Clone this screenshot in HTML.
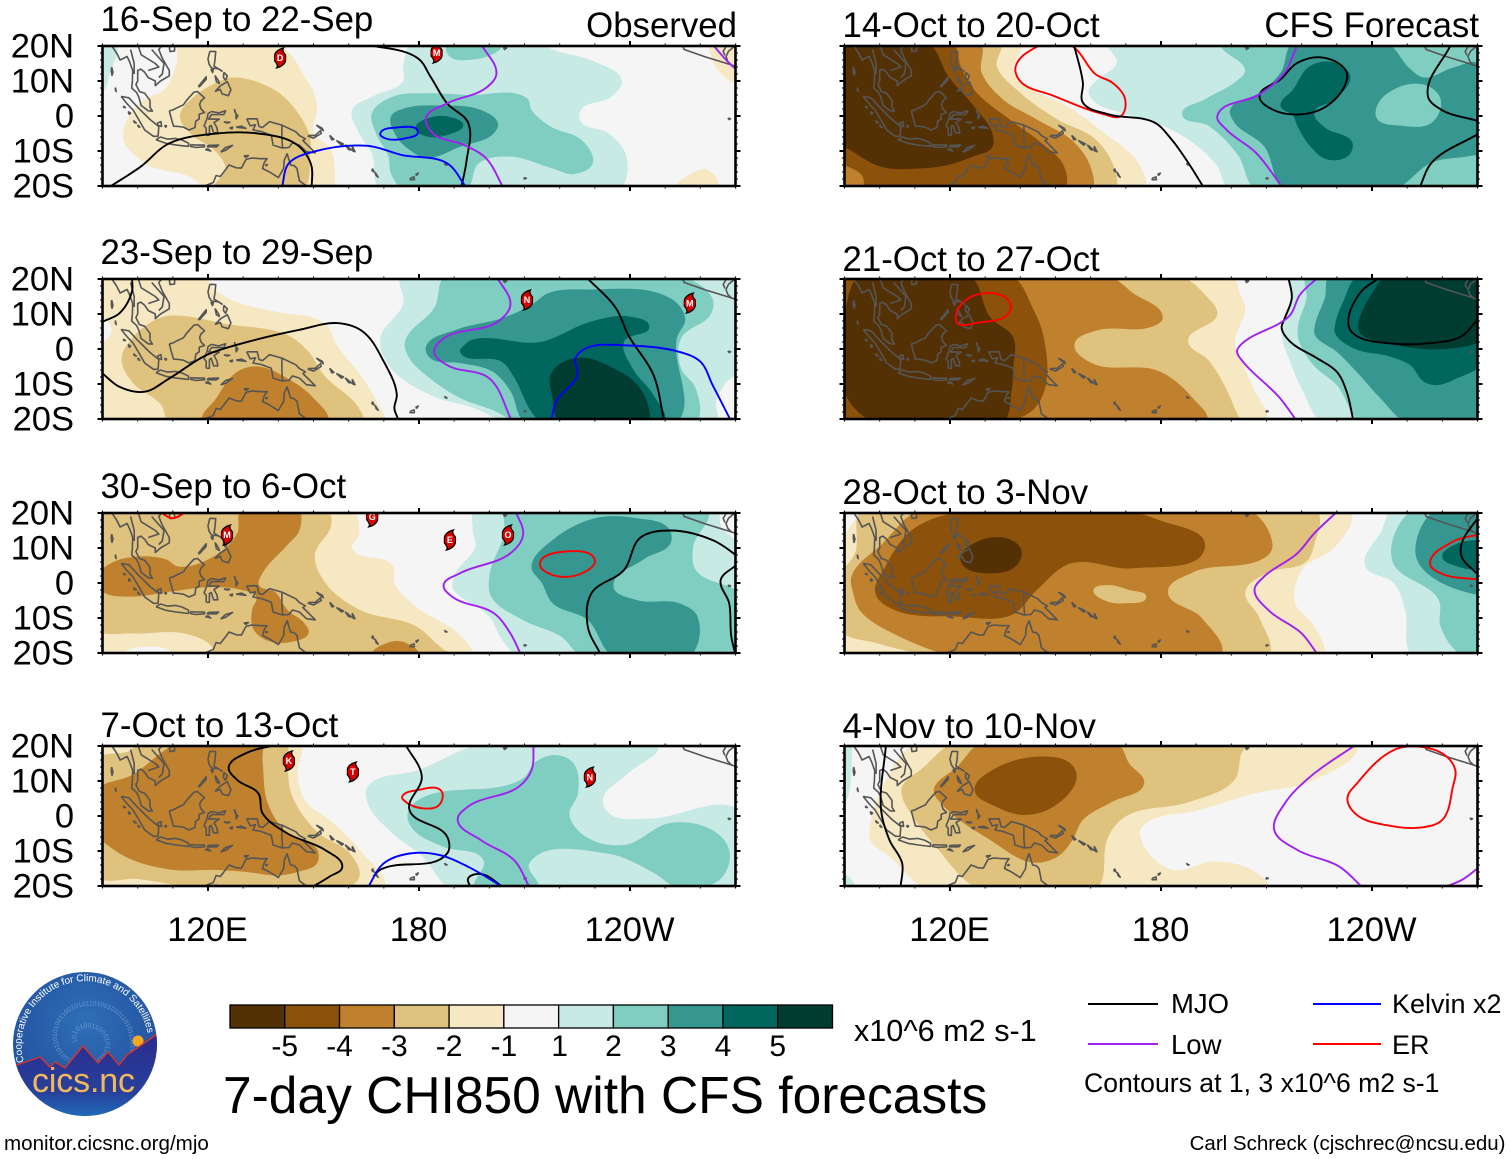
<!DOCTYPE html>
<html lang="en">
<head>
<meta charset="utf-8">
<title>7-day CHI850 with CFS forecasts</title>
<style>
html,body{margin:0;padding:0;background:#fff}
svg{display:block}
text{font-family:"Liberation Sans",sans-serif;fill:#000}
</style>
</head>
<body>
<svg id="chart" xmlns="http://www.w3.org/2000/svg" width="1510" height="1159" viewBox="0 0 1510 1159">
  <rect width="1510" height="1159" fill="#fff"/>
  <g id="panels"></g>
  <g id="colorbar"></g>
  <text x="854" y="1041" font-size="30.6">x10^6 m2 s-1</text>
  <text x="223" y="1113" font-size="51.5">7-day CHI850 with CFS forecasts</text>
  <g>
    <line x1="1088" x2="1158" y1="1004" y2="1004" stroke="#000" stroke-width="2"/>
    <text x="1171" y="1013" font-size="27.5">MJO</text>
    <line x1="1313" x2="1381" y1="1004" y2="1004" stroke="#0000ff" stroke-width="2"/>
    <text x="1392" y="1013" font-size="27">Kelvin x2</text>
    <line x1="1088" x2="1158" y1="1044" y2="1044" stroke="#a020f0" stroke-width="2"/>
    <text x="1171" y="1054" font-size="27.5">Low</text>
    <line x1="1313" x2="1381" y1="1044" y2="1044" stroke="#ff0000" stroke-width="2"/>
    <text x="1392" y="1054" font-size="27">ER</text>
    <text x="1084" y="1092" font-size="26.6">Contours at 1, 3 x10^6 m2 s-1</text>
  </g>
  <text x="4" y="1150" font-size="20.6">monitor.cicsnc.org/mjo</text>
  <text x="1505.5" y="1150" font-size="20.5" text-anchor="end">Carl Schreck (cjschrec@ncsu.edu)</text>
  <g>
    <defs>
      <radialGradient id="logoSky" cx="50%" cy="35%" r="60%">
        <stop offset="0" stop-color="#2f6fb6"/><stop offset="1" stop-color="#22509f"/>
      </radialGradient>
      <linearGradient id="logoGround" x1="0" y1="0" x2="0" y2="1">
        <stop offset="0" stop-color="#2b2a8c"/><stop offset="0.65" stop-color="#27409c"/><stop offset="1" stop-color="#1d7cc0"/>
      </linearGradient>
      <clipPath id="logoClip"><circle cx="85" cy="1044" r="72"/></clipPath>
      <path id="logoArc" d="M 24,1062 A 63.5,63.5 0 1 1 148,1036"/>
      <path id="logoSpiral" d="M 78,1042 C 70,1028 92,1022 102,1034 C 114,1050 96,1068 74,1060 C 48,1050 52,1012 84,1006 C 112,1002 134,1022 130,1052"/>
    </defs>
    <circle cx="85" cy="1044" r="72" fill="url(#logoSky)"/>
    <text font-size="6.5" style="fill:#8fb6e2" opacity="0.6"><textPath href="#logoSpiral">101010011000101101010011100101011010100110010101101001010110101100101011010</textPath></text>
    <circle cx="138" cy="1041" r="5.5" fill="#f6a821"/>
    <g clip-path="url(#logoClip)">
      <path d="M10,1066 L17,1065 L40,1057 L50,1067 L55,1062 L65,1068 L83,1046 L98,1063 L108,1052 L119,1065 L127,1055 L160,1032 L165,1125 L5,1125 Z" fill="url(#logoGround)" stroke="#d8342c" stroke-width="1.4"/>
    </g>
    <text font-size="10" style="fill:#fff"><textPath href="#logoArc" textLength="205">Cooperative Institute for Climate and Satellites</textPath></text>
    <text x="32" y="1092" font-size="34" textLength="103" style="fill:#f2b95a">cics.nc</text>
  </g>
</svg>
<script>
// ---- axis data ----
const lonTicks = [120, 180, 240];
const lonTickLabels = ['120E', '180', '120W'];
const latTicks = [20, 10, 0, -10, -20];
const latTickLabels = ['20N', '10N', '0', '10S', '20S'];
const colorbarLabels = ['-5', '-4', '-3', '-2', '-1', '1', '2', '3', '4', '5'];
const bandColors = ['#543005', '#8c510a', '#bf812d', '#dfc27d', '#f6e8c3', '#f5f5f5', '#c7eae5', '#80cdc1', '#35978f', '#01665e', '#003c30'];
const lineColors = {mjo: '#000000', low: '#a020f0', kelvin: '#0000ff', er: '#ff0000'};

// ---- filled CHI850 bands: [band index, [lon,lat, lon,lat, ...]] ----
const bands16Sep = [
 [6,[93.6,21,92,12,90,7,88,7,88,21]],
 [4,[112,21,111,15,108,8,101,4,96.6,-2,96,-7,99,-11,104,-14.5,114,-17,121,-21,155,-21,156,-14.5,154.6,-9,150,-5,151,2,150,7,147,12,144,17,139,21]],
 [3,[127,11,139,7.4,145,1.7,149,-6,149,-11,147,-21,122,-21,125,-15,122,-10,115,-5,112,0,116,5.5,122,9.3]],
 [4,[253.3,-21,257.5,-16.4,262,-15.4,265,-21]],
 [4,[263,21,263.5,16,266,12,271,9.5,272,21]],
 [6,[178,21,175.5,14,175.5,10,166.6,5.5,161,1.7,163,-5,166.6,-10.7,169,-21,237,-21,239,-11.6,234,-5,226,-1.6,226,1.7,234.7,5.5,237.7,10,230,15.5,218,19,212,22]],
 [7,[188,21,188.7,17,194,16,203,19,204,21]],
 [7,[166.6,0.8,167.8,-5,171.3,-11.6,172,-16.4,175.5,-21,193.5,-21,197,-13.5,206,-11.6,218,-15,224,-16.6,229.4,-13.5,226.4,-7,217.4,-3,212,1.7,210.8,5,194,6,182,6.5,172.5,5.5]],
 [8,[172,-0.2,176,2.2,185.7,3,197.6,1.7,202.4,-2,201.2,-5,191.7,-8.8,182,-12,177.3,-9.7,173.7,-6]],
 [9,[179,-3.5,183.3,-0.4,189.3,-0.4,192.6,-2.6,189.3,-5,182,-5.8]]
];
const bands23Sep = [
 [4,[88,21,118.7,21,122,17,128,13.5,140,10.5,153,7.5,157,0.5,163,-7,168,-15,170,-21,88,-21,88,1,91.5,3,92.5,6,90,9,88,9]],
 [3,[104.4,8,109,9.5,126,7,142.6,4,148.6,-0.8,153,-7.5,163,-17,164,-21,109,-21,106.7,-16,98.4,-9.4,95.4,-2.7,98.4,3]],
 [2,[118.5,-21,122.4,-14,128.3,-6.5,134.3,-5,142.6,-8.4,150,-14,154,-21]],
 [6,[175,21,175.5,13,169,3,171.6,-5,184,-13.5,196,-17,205,-21,264.5,-21,264.5,-15,267,-10,271,-6,272,21]],
 [7,[187.5,21,184.5,12,176,2,177.3,-2.7,182,-7.5,191.7,-14,201,-17.5,208.4,-21,258.7,-21,258.7,-11.3,254.5,-5.5,254.5,3,263,10,263.4,14.5,254,21]],
 [8,[216.8,16,227.6,17,251.5,14.5,255.7,8.8,253.3,3,253.3,-21,210.2,-21,206,-12,201,-6.5,191.7,-4,183.3,-2.7,182,0.7,190.5,5.5,203.6,8.8,212,12.6]],
 [9,[193,1.2,195,2.6,214.4,2,228.8,7.8,239.5,9.3,245.5,6.4,238.3,2,240.7,-5.5,246.7,-13.2,249.7,-21,215,-21,212,-18,207.2,-8.4,203.6,-3.7,191.7,-0.8]],
 [10,[217.4,-7.5,221,-3.7,227,-2.5,235.3,-5.5,241.3,-9.4,244.8,-15,245,-21,220,-21,218,-14]]
];
const bands30Sep = [
 [4,[88,21,161,21,163,14,161,10,172.6,5,173,0,179.4,-7,191.4,-14.7,195,-21,88,-21]],
 [3,[88,21,154,21,155,16.5,150.4,8,153.4,0,163,-7.6,179,-12.3,187,-19,190,-21,122,-21,121,-18,113,-14.4,98.4,-14.4,88,-13]],
 [5,[96,-21,102,-18.2,110,-21]],
 [2,[129.5,21,145.6,21,146,15,142.6,10.9,135.5,2.8,134.5,-0.6,139,-2.5,142.6,-7.7,147.4,-11.5,148.6,-14.4,143.8,-16.8,137.8,-16.8,133,-13.4,132.5,-7.7,133.7,-3.9,129.5,-2,120,-1.2,109,-2.5,98.4,-3.9,90,-2.5,88,1,90,4,96,7,108,6.8,111.5,4.7,122.3,8,128.3,14.2]],
 [2,[166.6,-21,171.3,-17,176,-17,180,-21]],
 [6,[196,21,195.3,15,196,10.4,190.4,2.8,189.6,-1.5,192,-4,200,-9.6,203.6,-16.2,208.3,-21,272,-21,272,10,266,16,264.7,21]],
 [7,[205,21,204.2,14,200,2,200.6,-4,209.6,-10.6,220.4,-15.3,226.4,-21,272,-21,272,-4,258.7,3.7,258,10.4,262,21]],
 [8,[230,18.5,242,18.5,251,15.6,251.5,11.3,244.3,7,235.3,-1,242,-4.9,254,-5.8,259.2,-9.6,256.9,-21,235.3,-21,228,-10.6,218,-5.8,215,-0.1,212,4.7,218,12.3]]
];
const bands7Oct = [
 [4,[88,21,146,21,145.5,12.3,147.4,4.7,155.7,-2,163,-9.6,170,-21,88,-21]],
 [3,[142,21,142.6,14,143.8,6,151,-4.5,160.6,-11,163,-17.5,158.2,-21,120.5,-21,100,-18,88,-17,88,16,98.4,19,100,21]],
 [2,[112,21,98.4,11.7,88,7,88,-5,91,-8,98.4,-12.5,110,-15.4,122,-15.4,131,-16,139.5,-17,145.5,-16,151,-13.5,151,-9.5,142.6,-5,137,3.6,135.5,16,135,21]],
 [6,[199,21,179.7,13.1,165.4,8.4,165.4,3.6,172.5,-5,181,-11.6,189.3,-21,272,-21,272,1,245.5,-0.7,234.7,0.3,232.3,4.6,239.5,12.2,248,21]],
 [7,[176.7,0.3,179.1,4.1,209.6,10.8,213.2,15.5,219.2,17.4,224,15,225.2,6.5,222.8,0.3,227.6,-6,238.3,-8.3,251.5,-2,263.4,-4,268.2,-9.7,266.4,-17.3,258.7,-21,254,-21,247,-16.4,233.5,-10.7,211.4,-13.5,213.8,-21,195.9,-21,198.3,-12.6,186.9,-8.8,178.5,-4]]
];
const bands14Oct = [
 [4,[88,21,139.9,21,138,12.9,143.5,7.6,153,3,163.8,-4.8,173.4,-13.3,175.2,-21,88,-21]],
 [3,[88,21,134.3,21,133.3,14.3,139.9,6.7,150.6,-1,161.4,-6.7,166.8,-15.2,166.8,-21,88,-21]],
 [2,[88,21,128.5,21,129,12.4,135,4.8,144.7,-1,155.4,-7.6,160.2,-15.2,160.2,-21,88,-21]],
 [1,[88,-13,90,-14,95,-17,96.2,-21,152.4,-21,152.4,-14.3,145.9,-7.6,137.5,-1.4,126.7,7.6,123,14.3,120.7,21,88,21]],
 [0,[88,21,113.6,21,119.5,11.4,126.7,2.9,132,-4.8,132,-9,126.7,-11.5,119.5,-14,111.2,-15,100.4,-14.5,90.2,-9,88,-8]],
 [6,[165,21,167.4,15.2,162,10.5,159.4,7,161.4,3.8,168.6,1,181.7,-3.3,189,-7.6,196,-14.3,199.3,-21,272,-21,272,21]],
 [7,[197.3,21,203.9,12.9,201.5,10,192.5,4.8,186,0.5,193.7,-2.9,202,-11.4,206.9,-21,272,-21,272,21]],
 [8,[217.6,21,214,12.4,208,6.7,199.7,1.9,200.9,-1.9,209.3,-8.6,215.2,-21,246.3,-21,257,-13.3,267.9,-11.4,271,-10.5,271,14.8,263,13.8,254.7,11,251,13.3,244,21]],
 [7,[241,1,244,6.2,254.7,9,259.5,4.8,257,-1.9,247.5,-2.7,242,-1.4]],
 [9,[214,2.9,217.6,7.6,222.4,14.3,229.6,15.2,233.8,11.4,229.6,4.8,223.6,1,226.6,-3.3,234.4,-7.6,233.2,-11.4,227.2,-12.4,222.4,-8.6,218.8,-2.9,217.6,0]]
];
const bands21Oct = [
 [4,[200.3,21,202.5,15.5,204,11.6,202.5,6.9,201,2,202.5,-2.6,206.3,-11.2,209.7,-21,88,-21,88,21]],
 [3,[88,21,185.3,21,193,15,196,10,187.7,2.3,193.7,-3.4,200.9,-16.8,202,-21,88,-21]],
 [2,[88,21,165,21,172,16,180.5,9,178,6.6,161.4,5.2,155.4,1.3,160,-3.9,179.4,-6.3,189,-14,193,-21,88,-21]],
 [1,[88,21,137.5,21,143.5,11.8,146.5,4,147.2,-10.6,143.5,-17.5,135,-21,88,-21]],
 [0,[94.4,21,125.5,21,131.5,9,138,3.3,138,-5.4,137.5,-12,135,-21,98.6,-21,90.2,-13,89,-0.6,90.2,11]],
 [6,[216.7,21,216.9,14,214.8,8.8,214.3,4,216.7,-3.6,220.4,-12.2,226,-21,272,-21,272,21]],
 [7,[221.4,21,221.4,14.6,219,6.9,219,3,223.3,-4.6,230,-10.3,237,-21,272,-21,272,21]],
 [8,[228,21,226.6,14.6,223.8,6.9,223.8,4,230,-0.8,235.6,-6.5,242.3,-14,249.9,-21,267.9,-21,270,-19,272,-18,272,21]],
 [9,[236.1,21,231.8,13.5,229.5,6.9,229.5,4.5,234.7,0.2,245.2,-2.2,250.9,-4.6,254.7,-9.3,258.4,-10.3,264.1,-8.4,272,-3.5,272,21]],
 [10,[244.2,21,240.3,16.4,236.1,6.9,236.6,4.5,242.3,2.1,263,0.2,272,3.5,272,21]]
];
const bands28Oct = [
 [4,[96,21,233.8,21,229.6,10.4,220,3.7,218.2,-5.8,223.6,-12.5,226,-21,88,-21,88,12,90,14]],
 [3,[95,21,224.2,21,223.6,11,221.2,6,210.5,3,204,-2.5,208,-10,210.5,-21,117,-21,99.2,-17.2,88,-13,88,1,93,8.5]],
 [2,[111.5,21,100.8,11.3,92,1.9,92.5,-3,94.5,-8,105,-15,122,-21,197,-21,191.6,-10,182,-2.5,189,3,210.5,8,211.7,11,205,21]],
 [1,[121,20,109,15,101.6,4.7,98.8,-3,104.2,-7.7,122,-9.6,137.6,-9.1,144.7,-2,154.3,5.6,172,4.2,192.5,10.4,179.4,18,167.4,21]],
 [0,[123,7.5,127.7,11.8,136,12.8,140.3,9.4,138.6,4.7,130,2.8,124,4.7]],
 [3,[160.8,-2,165,-0.6,171,-2,175.8,-4,169.8,-5.8,163.8,-4.9]],
 [6,[245.7,21,242.8,15,238,5,246.3,-0.1,249.4,-7.7,251.7,-21,272,-21,272,21]],
 [7,[251.7,21,245.7,6.6,259,-4.9,259.5,-12.5,266.2,-21,272,-21,272,21]],
 [8,[258.3,21,252.3,9.4,254.7,3.7,270,-3.4,272,-3.4,272,21]],
 [9,[260,7.5,264.3,11.3,270,12.3,272,12.3,272,3.7,270,3.7,264.3,4.7]]
];
const bands4Nov = [
 [6,[88,21,91,21,92,14,90.5,4,88,0]],
 [6,[88,-16,90,-16.5,93,-21,88,-21]],
 [4,[110.6,21,100.4,7.4,97.4,-2,97.4,-7,102.8,-11.6,113.6,-21,210.5,-21,205.7,-15.4,194.9,-13,183,-15.3,174,-5,175.8,-2,190,1.5,206.9,6.5,223.6,10.3,235.6,21]],
 [3,[121.3,21,112,13.5,106.4,8.4,106.4,5.5,108.8,0.8,116,-8.8,128.5,-21,161.4,-21,165,-5.9,169.8,-0.2,188,4,200.9,10.3,202.7,17.4,203.9,21]],
 [2,[129,21,122,14,115.4,7.4,118.3,2.7,131.5,-6.9,143.5,-13.3,150.6,-11.6,154.8,-6.9,157.8,-1.1,166,4,175.2,9.3,171,15,167.4,21]],
 [1,[127,7.4,132.9,13.6,147.2,17,154.3,15,156,10.8,149.5,2.7,141,0.3,133,2.7]]
];

// ---- contour lines: [kind, closed, [lon,lat, ...]] ----
const lines16Sep = [
 ['mjo',0,[92.4,-20,100.8,-14.5,109,-7.8,122.4,-5,134.3,-5,145,-8,149.3,-13.8,149.5,-20.5]],
 ['mjo',0,[164.8,20.5,179.7,16.5,183.3,11.2,188,3.6,194,-2,193.5,-12.9,192,-20.5]],
 ['low',0,[197.7,20.5,202,12,199,8,188,3.6,182,-0.5,184,-5,192.9,-8.3,199,-12,204,-20.5]],
 ['low',0,[263.4,20.5,269.4,14,271,13]],
 ['kelvin',0,[141,-20.5,143,-13.5,150,-10.2,165.4,-8.5,175,-11.1,188,-13.5,193.5,-20.5]],
 ['kelvin',1,[169,-5,173.7,-3.3,179.7,-4.5,176,-6.4,170,-6.2]]
];
const lines23Sep = [
 ['mjo',0,[90,7.8,94.8,10.2,98.4,16.5,98.4,20.5]],
 ['mjo',0,[90,-7,94.8,-10.8,102,-12.2,109,-8.4,119.7,-1.7,131.6,2.1,146,5.5,156.8,7.4,164,5,170,-3.6,173.7,-13,173,-17,174.3,-20.5]],
 ['mjo',0,[227.6,20.5,236,11.7,239.5,4,246.7,-7.5,249.7,-20.5]],
 ['low',0,[202.2,20.5,206,12.6,202.4,7.8,187,3,184.3,-0.8,188,-4.6,200,-8.4,206.4,-20.5]],
 ['kelvin',0,[217.6,-20.5,219,-15,225,-7.5,224.5,-2.7,227.5,0.2,239.5,1,254,-0.8,260,-3.6,263.5,-10.3,268.7,-20.5]]
];
const lines30Sep = [
 ['er',1,[214.4,5.6,221.6,9,230,6.6,226.4,2.8,218,2.3]],
 ['er',0,[105,21,106.2,20.5,109.8,18.5,114,20.5,115,21]],
 ['mjo',0,[231.7,-20.5,228,-12.5,229,-3,238.3,3.7,243,13,251.5,15,263.4,12.3,269.4,8.5,271,7]],
 ['mjo',0,[270,5,265.8,0.9,268.2,-5.8,268.8,-15.3,270,-20.5]],
 ['low',0,[207.5,20.5,209.6,13.7,206,8.5,191.7,2.8,187,-0.6,189.4,-3.9,201.4,-8.7,206,-14.4,209,-20.5]]
];
const lines7Oct = [
 ['er',1,[175.2,5.5,179.7,7.4,186.3,7.2,185.7,3.1,181,2.2,175.6,4.6]],
 ['mjo',0,[140.2,20.5,130.7,17.9,125.9,14,128.3,10.3,134.3,6.5,135.5,0.8,142.6,-5,153.3,-9.7,158.2,-14.5,154.6,-17.3,149.2,-20.5]],
 ['mjo',0,[176.1,20.5,180.8,11.2,177.3,1.7,188,-5.9,188,-10.7,168.9,-15.4,167,-17.3]],
 ['mjo',0,[194.7,-20.5,194,-17.8,197.6,-16.6,204.2,-20.5]],
 ['mjo',0,[121.7,-19.8,126,-20.3]],
 ['low',0,[212.6,20.5,212,13.1,208.4,8.4,194,2.7,191,-1.1,197.6,-6.9,207,-12.6,211.5,-20.5]],
 ['kelvin',0,[165.4,-20.5,170,-13.5,177.3,-10.7,185.7,-11.1,194,-14.5,204.2,-20.5]]
];
const lines14Oct = [
 ['er',1,[145.9,20.5,138.7,14.3,139.9,10,149.4,5.8,163.8,0.5,168.6,0,169.8,4.8,166.2,9.5,161.4,11.9,155.4,19.5,150,22]],
 ['mjo',0,[155.2,20.5,157.8,9.5,157.8,3.8,165,0.5,178.2,-1.9,183,-6.7,187.7,-13.3,192.2,-20.5]],
 ['mjo',1,[208,5.7,214,10.5,218.8,15.2,226,16.7,232.6,12.9,232.6,9.5,227.2,2.9,220,0.5,211.6,1.9]],
 ['mjo',0,[262.5,20.5,255.9,5.7,259.5,1.9,270,-1.4]],
 ['mjo',0,[253.5,-20.5,257,-13.3,270,-5.2]],
 ['low',0,[218.8,20.5,215.2,12.4,208,6.2,196,0,198.5,-3.8,207,-10.5,214.6,-20.5]]
];
const lines21Oct = [
 ['er',1,[122,7.5,122,10.9,126.7,15.2,135,15.2,137.3,12.3,136,9.5,127.7,7.5,123,6.9]],
 ['mjo',0,[216.2,20.5,217.2,14.6,215.2,8.8,214.3,6,216.7,2.1,224.3,-2.6,230,-6.5,232.8,-12.2,234.7,-20.5]],
 ['mjo',0,[242.3,20.5,236.6,16,233.3,6.9,235.2,4,245.2,1.6,255.7,1.6,265.2,3.5,270,8.3]],
 ['low',0,[224.7,20.5,219.5,15.5,216.7,9.7,202.5,1,201.6,-0.8,202.5,-2.6,213.8,-14,218.6,-20.5]]
];
const lines28Oct = [
 ['er',0,[271,14,263,11.8,256.5,5.6,259.5,2.8,271,0.9]],
 ['mjo',0,[270,18.5,265.5,11.3,265.5,7.5,269.7,2.8]],
 ['low',0,[230.2,20.5,223.6,14.2,218.8,8.5,209.3,1.8,206.6,-2,210.5,-7.7,220,-14.4,224.6,-20.5]]
];
const lines4Nov = [
 ['mjo',0,[101.8,20.5,100.4,1.7,102.8,-6.9,106.4,-13.5,105.9,-20.5]],
 ['low',0,[235.6,20.5,222.4,11.2,215.2,3.6,212.2,-4,218.8,-9.7,230.8,-14.5,237.4,-20.5]],
 ['low',0,[260.2,-20.5,265.5,-18.3,270,-15]],
 ['er',1,[246.3,18.9,253.5,19.8,260.7,17.4,263.7,13.1,263,8.4,260,-1.1,254.7,-3.2,244,-2.6,235.7,0.3,233,5,235.7,9.3]]
];

// ---- tropical cyclones: [letter, lon, lat] ----
const storms16Sep = [['D',140.5,16.6],['M',185,18]];
const storms23Sep = [['N',210.7,14],['M',257,13.1]];
const storms30Sep = [['M',125.4,13.7],['G',166.7,18.9],['E',188.8,12.3],['O',205.3,13.7]];
const storms7Oct = [['K',143,15.7],['T',161.2,12.6],['N',228.6,11.1]];

// ---- coastlines: [lon,lat, ...] ----
const coastlines = [
 [108,21.5,106,19,107,16.5,109,13,109,11.5,106.5,10,105,8.7,105,10,103,11,102,12.5,100.9,13.4,100,13,100,10,99.5,9,100.5,7,102,6.5,103.5,4.5,103.5,2.5,104.2,1.4,103,1.5,101,3,100.3,5.5,99.7,6.7,98.3,8,98.5,10,98.6,13,97.7,15.5,97,17,95,16,94,18,92,21],
 [100,20.5,101,17.5,105,15,106,14,103,13],
 [104,19,107.5,15,107,12,106,11],
 [98,19,99,15,99,12],
 [95.3,5.6,97.5,5.2,100,2.5,103.5,-1,106,-3,105.8,-5.8,104.5,-5.8,102,-4,100.3,-1,98.7,1.7,97,3.5,95.3,5.6],
 [105.2,-6.8,106.5,-6,108.5,-6.6,110.8,-6.4,112.7,-6.9,114.5,-7.8,114.4,-8.7,111,-8.3,108,-7.8,105.2,-6.8],
 [115,-8.2,116.5,-8.3,119,-8.3,119,-8.8,116.5,-9,115,-8.7,115,-8.2],
 [120,-8.4,123,-8.3,122.5,-8.8,119.8,-8.8,120,-8.4],
 [123.6,-10.3,125,-9,127,-8.4,125,-9.8,123.6,-10.3],
 [119.2,-9.6,120.8,-10,120,-9.4,119.2,-9.6],
 [109,1.5,110,1.7,111.3,2.4,113,3.2,114,4.6,116,6.8,117,7,119,5.2,118,4.3,117.6,3.3,118,2,119,1,117.5,0.5,117.5,-0.8,116.5,-1.5,116.3,-3.3,114.6,-4,113,-3.2,111.7,-3,110.2,-2.9,109.5,-0.5,109,1.5],
 [119.5,-5.5,119.5,-3.5,118.9,-2.8,119.8,-0.5,120,0.7,121,1.3,123,0.9,125,1.5,124.5,0.4,121,0.4,120.2,-0.9,121.5,-0.9,123.2,-0.9,121.7,-1.9,122.5,-3.3,122.8,-4.8,121.6,-4.8,120.9,-2.7,120.4,-3,120.4,-5.5,119.5,-5.5],
 [120.5,18.5,122.2,18.4,122,16,121.7,14.3,124,12.8,123,13.5,121,13.7,120.3,14.8,120,16.3,120.5,18.5],
 [122,7,123.5,8.6,125.5,9.8,126.5,7.5,125.8,5.8,124,6.3,123.5,7.6,122,7],
 [117.2,8.4,119.5,11.2,119.5,10.5,117.6,8.4,117.2,8.4],
 [122,11.6,123,10,123.2,9.3,122.4,9.8,122,11.6],
 [124.5,12.5,125.5,11.5,125,10.2,124.4,11,124.5,12.5],
 [120.8,13.3,121.3,12.4,121.5,13.2,120.8,13.3],
 [127.5,2,128,0.5,128,-0.8,128.5,0,127.7,1,127.5,2],
 [128,-3.2,130.8,-3.5,129.5,-2.9,128,-3.2],
 [126.1,-3.4,127,-3.2,126.8,-3.7,126.1,-3.4],
 [124.5,-1.7,126.2,-1.8,125.5,-2,124.5,-1.7],
 [131,-0.8,134,-0.8,134.5,-3,135.5,-3.3,137.5,-1.6,141,-2.6,145,-4.5,146,-5.6,147.7,-6.5,147,-7,150.5,-10.5,148,-10.2,146,-8.3,144,-7.7,143,-9,141,-9.1,138.5,-8.3,138,-5.5,135,-4.4,132.8,-4,133.5,-2.5,132,-2.8,131,-0.8],
 [141,-2.6,141,-6.5,141.2,-9.1],
 [148.5,-5.6,150.5,-5.5,152,-4.2,152.2,-5,150,-6.3,148.5,-5.8,148.5,-5.6],
 [150.8,-2.6,152.8,-4.2,152.5,-3.5,150.8,-2.6],
 [154.6,-5.5,155.8,-6.7,155.2,-6.8,154.6,-5.5],
 [156.5,-7,158.5,-8,158,-8.3,156.5,-7],
 [159,-8.2,160.8,-9.7,160,-9.6,159,-8.2],
 [161,-8.6,161.8,-10.2,161.2,-10,161,-8.6],
 [166.8,-15,167.2,-16,166.6,-15.6,166.8,-15],
 [167.5,-16,168.4,-17.5,167.8,-17,167.5,-16],
 [177.5,-17.8,178.6,-17.4,178.7,-18.2,177.5,-18.2,177.5,-17.8],
 [179,-16.7,179.8,-16.3,179.4,-16.9,179,-16.7],
 [187.2,-13.5,188,-14,187.6,-14,187.2,-13.5],
 [209.8,-17.6,210.5,-17.8,210,-18,209.8,-17.6],
 [203.9,20,204.9,19.4,204.3,19,203.9,20],
 [267.8,-0.6,268.6,-0.8,268.2,-1,267.8,-0.6],
 [113.5,-22,114.2,-22,116,-20.7,119,-20,121.5,-19,122.3,-17,123.5,-17.3,124.5,-16,126,-14,128,-14.8,129.5,-14.9,130.8,-12.4,132.5,-12,135,-12.2,136.8,-12.2,136,-13.3,135.5,-15,137.5,-16,140,-17.6,141.5,-15,141.7,-12.6,142.5,-10.8,143.5,-14,144.5,-14.2,145.3,-15,146,-18.5,148,-20,149.5,-22],
 [130.2,-11.4,131.5,-11.3,130.8,-11.8,130.2,-11.4],
 [136.4,-13.8,136.9,-14,136.5,-14.2,136.4,-13.8],
 [92.6,14,93,12.5,92.7,11.6,92.5,12.8,92.6,14],
 [93.6,7.5,93.9,7,93.7,8,93.6,7.5],
 [96,2.9,96.5,2.4,96,2.5,96,2.9],
 [97.3,1.3,98,0.8,97.6,0.5,97.3,1.3],
 [98.8,-1.3,99.6,-2,99.1,-1.9,98.8,-1.3],
 [100,-2.5,100.6,-3.2,100.2,-3.1,100,-2.5],
 [105.5,-2.1,106.6,-1.6,106.8,-3,105.9,-2.7,105.5,-2.1],
 [107.6,-2.7,108.2,-2.8,108,-3.2,107.6,-2.7],
 [109,19.7,110.5,20.1,110.5,18.6,109.2,18.4,109,19.7],
 [254.5,21,255.4,19,261.4,16.9,268.8,14.6,272,13.5],
 [271,21,268,18.5,267.3,17,267.8,15.6,269,14.4],
 [268,21,266.5,18.5,267,17.3]
];

// ---- layout ----
const panels = [
 {name:'16-sep',title:'16-Sep to 22-Sep',note:'Observed',left:102.5,top:46,titleY:31,noteY:37,bands:bands16Sep,lines:lines16Sep,storms:storms16Sep},
 {name:'23-sep',title:'23-Sep to 29-Sep',left:102.5,top:279,titleY:264,bands:bands23Sep,lines:lines23Sep,storms:storms23Sep},
 {name:'30-sep',title:'30-Sep to 6-Oct',left:102.5,top:513,titleY:498,bands:bands30Sep,lines:lines30Sep,storms:storms30Sep},
 {name:'7-oct',title:'7-Oct to 13-Oct',left:102.5,top:746,titleY:737,bands:bands7Oct,lines:lines7Oct,storms:storms7Oct,xlabels:true},
 {name:'14-oct',title:'14-Oct to 20-Oct',note:'CFS Forecast',left:844.5,top:46,titleY:37,noteY:37,bands:bands14Oct,lines:lines14Oct,storms:[]},
 {name:'21-oct',title:'21-Oct to 27-Oct',left:844.5,top:279,titleY:271,bands:bands21Oct,lines:lines21Oct,storms:[]},
 {name:'28-oct',title:'28-Oct to 3-Nov',left:844.5,top:513,titleY:504,bands:bands28Oct,lines:lines28Oct,storms:[]},
 {name:'4-nov',title:'4-Nov to 10-Nov',left:844.5,top:746,titleY:738,bands:bands4Nov,lines:lines4Nov,storms:[],xlabels:true}
];

const NS = 'http://www.w3.org/2000/svg';
const LON0 = 90, LON1 = 270, LAT_TOP = 20, LAT_BOT = -20;
const PW = 633, PH = 140;

function mk(parent, tag, attrs, text) {
  const el = document.createElementNS(NS, tag);
  for (const k in attrs) el.setAttribute(k, attrs[k]);
  if (text !== undefined) el.textContent = text;
  parent.appendChild(el);
  return el;
}
function xAxis(p, lon) { return p.left + (lon - LON0) / (LON1 - LON0) * PW; }
function yAxis(p, lat) { return p.top + (LAT_TOP - lat) / (LAT_TOP - LAT_BOT) * PH; }
function toPoints(p, flat) {
  const pts = [];
  for (let i = 0; i < flat.length; i += 2) pts.push([xAxis(p, flat[i]), yAxis(p, flat[i + 1])]);
  return pts;
}
function unit(a, b) {
  const dx = b[0] - a[0], dy = b[1] - a[1], l = Math.hypot(dx, dy) || 1;
  return [dx / l, dy / l];
}
function smoothPath(pts, closed) {
  const n = pts.length;
  const tan = pts.map((pt, i) => {
    const prev = closed ? pts[(i - 1 + n) % n] : pts[Math.max(i - 1, 0)];
    const next = closed ? pts[(i + 1) % n] : pts[Math.min(i + 1, n - 1)];
    const u = prev === pt ? [0, 0] : unit(prev, pt);
    const v = next === pt ? [0, 0] : unit(pt, next);
    const sx = u[0] + v[0], sy = u[1] + v[1], l = Math.hypot(sx, sy) || 1;
    return [sx / l, sy / l];
  });
  let d = 'M' + pts[0][0].toFixed(1) + ',' + pts[0][1].toFixed(1);
  const segs = closed ? n : n - 1;
  for (let i = 0; i < segs; i++) {
    const a = pts[i], b = pts[(i + 1) % n];
    const h = Math.hypot(b[0] - a[0], b[1] - a[1]) / 3;
    const ta = tan[i], tb = tan[(i + 1) % n];
    d += 'C' + (a[0] + ta[0] * h).toFixed(1) + ',' + (a[1] + ta[1] * h).toFixed(1) + ' ' +
         (b[0] - tb[0] * h).toFixed(1) + ',' + (b[1] - tb[1] * h).toFixed(1) + ' ' +
         b[0].toFixed(1) + ',' + b[1].toFixed(1);
  }
  return d + (closed ? 'Z' : '');
}
function straightPath(pts) {
  return 'M' + pts.map(q => q[0].toFixed(1) + ',' + q[1].toFixed(1)).join('L');
}

const root = document.getElementById('panels');
const defs = mk(root, 'defs', {});

panels.forEach((p, idx) => {
  const clipId = 'clip' + idx;
  const cp = mk(defs, 'clipPath', {id: clipId});
  mk(cp, 'rect', {x: p.left, y: p.top, width: PW, height: PH});

  const g = mk(root, 'g', {});
  
  

  const title = mk(g, 'text', {x: p.left - 2, y: p.titleY, 'font-size': 34.8}, p.title);
  
  

  if (p.note) {
    const note = mk(g, 'text', {x: p.left + PW + 1.5, y: p.noteY, 'font-size': 34.8, 'text-anchor': 'end'}, p.note);
    
    
  }

  const plot = mk(g, 'g', {'clip-path': 'url(#' + clipId + ')'});
  
  

  const bg = mk(plot, 'rect', {x: p.left, y: p.top, width: PW, height: PH, fill: bandColors[5]});
  
  

  p.bands.forEach(b => {
    const el = mk(plot, 'path', {d: smoothPath(toPoints(p, b[1]), true), fill: bandColors[b[0]]});
    
    
  });

  coastlines.forEach(c => {
    const el = mk(plot, 'path', {d: straightPath(toPoints(p, c)), fill: 'none', stroke: '#555', 'stroke-width': 1.6, 'stroke-linejoin': 'round'});
    
    
  });

  p.lines.forEach(l => {
    const el = mk(plot, 'path', {d: smoothPath(toPoints(p, l[2]), !!l[1]), fill: 'none', stroke: lineColors[l[0]], 'stroke-width': 1.9});
    
    
  });

  p.storms.forEach(s => {
    const cx = xAxis(p, s[1]), cy = yAxis(p, s[2]);
    const sg = mk(plot, 'g', {transform: 'translate(' + cx.toFixed(1) + ',' + cy.toFixed(1) + ')'});
    
    
    mk(sg, 'path', {d: 'M-5.5,-2 C-5.5,-6 -1,-9 3.5,-10 C2,-8 3,-6 5.5,-3 L5.5,2 C5.5,6 1,9 -3.5,10 C-2,8 -3,6 -5.5,3 Z', fill: '#d40000', stroke: '#000', 'stroke-width': 1.2});
    mk(sg, 'circle', {r: 5.4, fill: '#d40000'});
    const st = mk(sg, 'text', {y: 3.2, 'text-anchor': 'middle', 'font-size': 9, 'font-weight': 'bold', style: 'fill:#fff'}, s[0]);
    
    
  });

  const frame = mk(g, 'rect', {x: p.left, y: p.top, width: PW, height: PH, fill: 'none', stroke: '#000', 'stroke-width': 2.6});
  
  

  const ticks = mk(g, 'g', {stroke: '#000'});
  
  
  for (let lon = LON0; lon <= LON1; lon += 10) {
    const major = lonTicks.includes(lon), x = xAxis(p, lon), len = major ? 5 : 2.5, w = major ? 2 : 1;
    mk(ticks, 'line', {x1: x, x2: x, y1: p.top - len, y2: p.top, 'stroke-width': w});
    mk(ticks, 'line', {x1: x, x2: x, y1: p.top + PH, y2: p.top + PH + len, 'stroke-width': w});
  }
  for (let lat = LAT_BOT; lat <= LAT_TOP; lat += 2) {
    const major = latTicks.includes(lat), y = yAxis(p, lat), len = major ? 5 : 2.5, w = major ? 2 : 1;
    mk(ticks, 'line', {x1: p.left - len, x2: p.left, y1: y, y2: y, 'stroke-width': w});
    mk(ticks, 'line', {x1: p.left + PW, x2: p.left + PW + len, y1: y, y2: y, 'stroke-width': w});
  }

  if (idx < 4) {
    latTicks.forEach((lat, i) => {
      const t = mk(g, 'text', {x: 74, y: yAxis(p, lat) + 11.5, 'font-size': 34.5, 'text-anchor': 'end'}, latTickLabels[i]);
      
      
    });
  }
  if (p.xlabels) {
    lonTicks.forEach((lon, i) => {
      const t = mk(g, 'text', {x: xAxis(p, lon) - 0.5, y: 941, 'font-size': 34.5, 'text-anchor': 'middle'}, lonTickLabels[i]);
      
      
    });
  }
});

// colorbar
const cb = document.getElementById('colorbar');
const cbLeft = 230, cbTop = 1005, cbHeight = 23, cbBox = 602.5 / bandColors.length;
bandColors.forEach((c, i) => {
  const r = mk(cb, 'rect', {x: cbLeft + i * cbBox, y: cbTop, width: cbBox, height: cbHeight, fill: c, stroke: '#000', 'stroke-width': 1.3});
  
  
});
colorbarLabels.forEach((lab, i) => {
  const t = mk(cb, 'text', {x: cbLeft + (i + 1) * cbBox + (i === 5 ? 1 : 0), y: 1056, 'font-size': 30, 'text-anchor': 'middle'}, lab);
  
  
});
</script>
</body>
</html>
